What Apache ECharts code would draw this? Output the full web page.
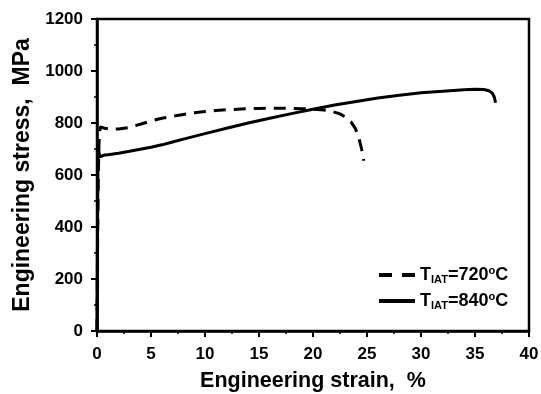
<!DOCTYPE html>
<html><head><meta charset="utf-8">
<script src="https://cdn.jsdelivr.net/npm/echarts@6/dist/echarts.min.js"></script>
<style>html,body{margin:0;padding:0;background:#fff}#c{width:541px;height:394px}</style>
</head><body><div id="c"></div>
<script>
var strain720 = [0, 0.05, 0.12, 0.2, 0.3, 0.45, 0.7, 1.2, 2, 3, 4, 5, 6, 7, 8, 9, 10, 11, 12, 13, 14, 15, 16, 17, 18, 19, 20, 21, 21.8, 22.5, 23, 23.5, 23.9, 24.2, 24.5, 24.7];
var stress720 = [0, 300, 600, 740, 785, 792, 780, 776, 777, 783, 795, 808, 818, 826, 833, 839, 844, 848, 851, 853, 855, 856, 857, 857, 856, 855, 853, 850, 844, 835, 823, 805, 780, 750, 700, 655];
var strain840 = [0, 0.05, 0.1, 0.15, 0.25, 0.4, 0.7, 1, 2, 3, 4, 5, 6, 7, 8, 10, 12, 14, 16, 18, 20, 22, 24, 26, 28, 30, 32, 34, 35, 35.8, 36.3, 36.6, 36.8, 36.9];
var stress840 = [0, 400, 708, 695, 670, 673, 677, 678, 684, 691, 699, 707, 716, 727, 738, 759, 780, 800, 818, 836, 853, 869, 883, 896, 907, 916, 922, 928, 930, 929, 924, 915, 898, 878];
var seriesNames = ['T_IAT=720oC', 'T_IAT=840oC'];
var legendTemps = ['720', '840'];
var xTitle = 'Engineering strain,  %';
var yTitle = 'Engineering stress,  MPa';

function pairs(xs, ys) { return xs.map(function (x, i) { return [x, ys[i]]; }); }

var font = 'Liberation Sans, Arial, sans-serif';
var dashIcon = 'path://M0,0H13V4H0Z M23,0H36V4H23Z';
var solidIcon = 'path://M0,0H36V4H0Z';
var chart = echarts.init(document.getElementById('c'), null, {renderer: 'canvas'});
chart.setOption({
  animation: false,
  backgroundColor: '#fff',
  grid: {left: 97, right: 12, top: 19, bottom: 63, show: true, borderColor: '#000', borderWidth: 2.5, containLabel: false, outerBoundsMode: 'none'},
  xAxis: {
    type: 'value', min: 0, max: 40, interval: 5,
    name: xTitle, nameLocation: 'middle', nameGap: 39,
    nameTextStyle: {fontFamily: font, fontWeight: 'bold', fontSize: 21.5, color: '#000'},
    axisLine: {lineStyle: {color: '#000', width: 2.5}},
    axisTick: {inside: false, length: 6, lineStyle: {color: '#000', width: 2}},
    minorTick: {show: true, splitNumber: 2, length: 3, lineStyle: {color: '#000', width: 1.5}},
    axisLabel: {margin: 15, fontFamily: font, fontWeight: 'bold', fontSize: 17, color: '#000', formatter: function (v) { return String(v); }},
    splitLine: {show: false}
  },
  yAxis: {
    type: 'value', min: 0, max: 1200, interval: 200,
    name: yTitle, nameLocation: 'middle', nameGap: 60,
    nameTextStyle: {fontFamily: font, fontWeight: 'bold', fontSize: 23, color: '#000'},
    axisLine: {lineStyle: {color: '#000', width: 2.5}},
    axisTick: {inside: false, length: 6, lineStyle: {color: '#000', width: 2}},
    minorTick: {show: true, splitNumber: 2, length: 3, lineStyle: {color: '#000', width: 1.5}},
    axisLabel: {margin: 14, fontFamily: font, fontWeight: 'bold', fontSize: 17, color: '#000', formatter: function (v) { return String(v); }},
    splitLine: {show: false}
  },
  legend: {
    orient: 'vertical', left: 374, top: 260, itemWidth: 36, itemHeight: 4, itemGap: 6,
    data: [{name: seriesNames[0], icon: dashIcon}, {name: seriesNames[1], icon: solidIcon}],
    itemStyle: {color: '#000', borderWidth: 0},
    lineStyle: {width: 0},
    formatter: function (name) {
      var i = seriesNames.indexOf(name);
      return '{t|T}{s|IAT}{t|=' + legendTemps[i] + '}{p|o}{t|C}';
    },
    textStyle: {
      color: '#000', fontFamily: font, fontWeight: 'bold',
      rich: {
        t: {fontSize: 18, fontWeight: 'bold', fontFamily: font, lineHeight: 20, color: '#000'},
        s: {fontSize: 11, fontWeight: 'bold', fontFamily: font, lineHeight: 20, verticalAlign: 'bottom', color: '#000'},
        p: {fontSize: 11, fontWeight: 'bold', fontFamily: font, lineHeight: 20, verticalAlign: 'top', color: '#000'}
      }
    }
  },
  series: [
    {name: seriesNames[0], type: 'line', data: pairs(strain720, stress720), showSymbol: false, symbol: 'none',
     lineStyle: {color: '#000', width: 3, type: [12, 8]}, itemStyle: {color: '#000'}},
    {name: seriesNames[1], type: 'line', data: pairs(strain840, stress840), showSymbol: false, symbol: 'none',
     lineStyle: {color: '#000', width: 3, type: 'solid'}, itemStyle: {color: '#000'}}
  ]
});
</script></body></html>
